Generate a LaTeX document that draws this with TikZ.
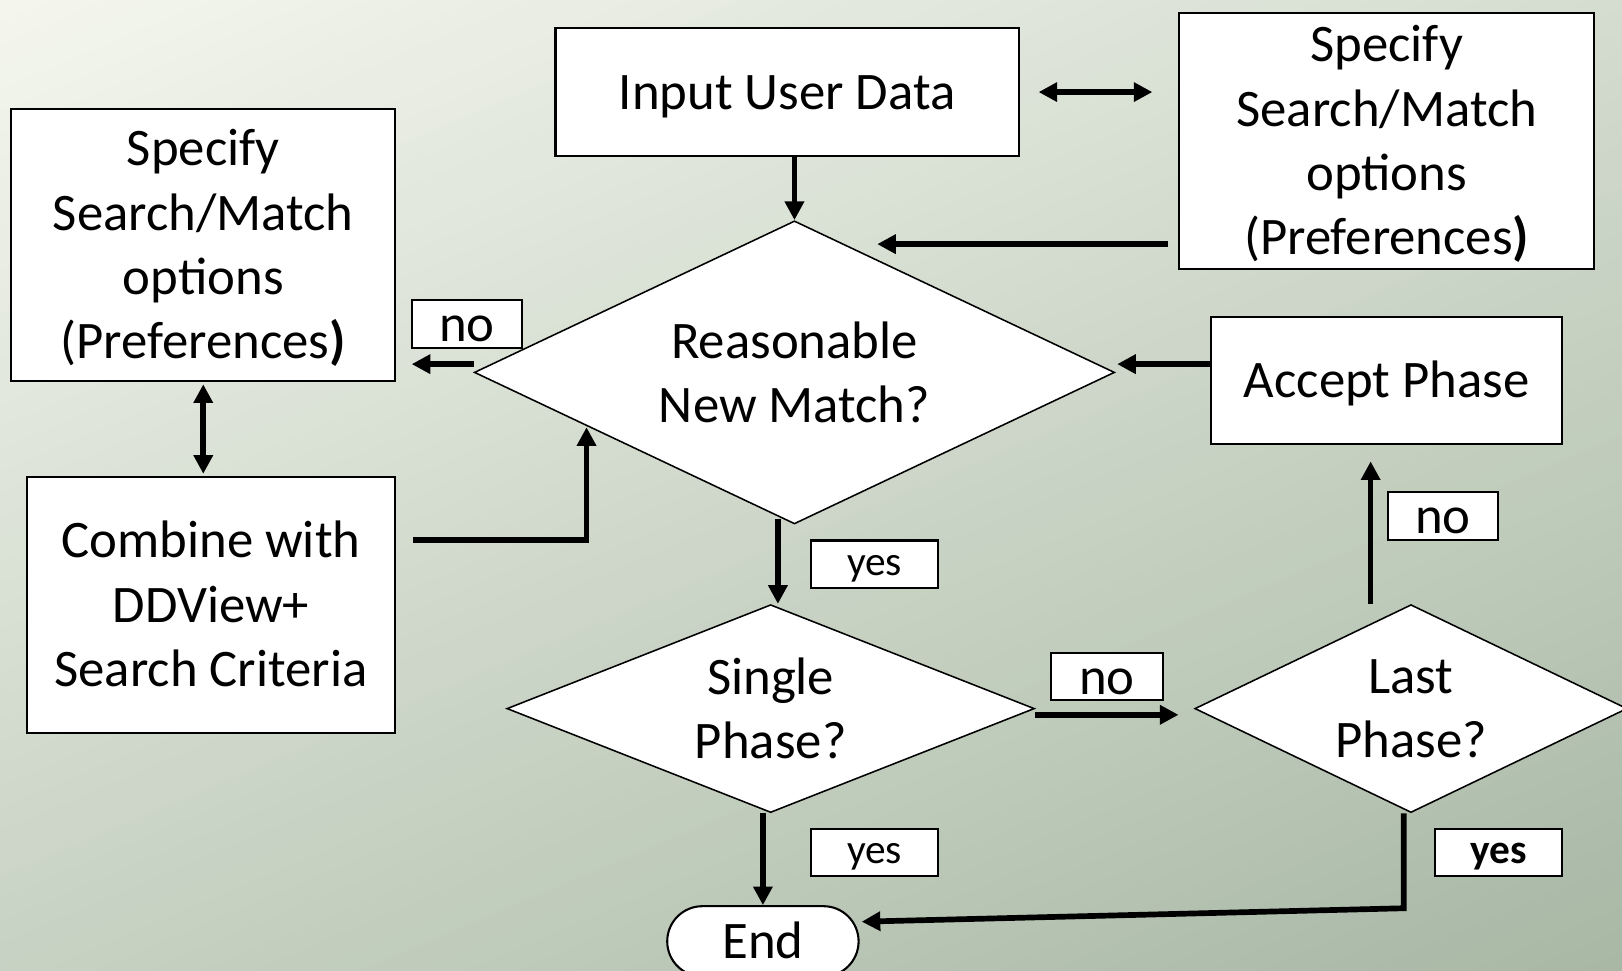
\documentclass[tikz,border=0pt]{standalone}
\usepackage{fontspec}
\setmainfont{Carlito}
\usetikzlibrary{arrows.meta,shapes.geometric,shapes.misc}
\definecolor{bglight}{HTML}{F4F6EE}
\definecolor{bgdark}{HTML}{A8B8A5}
\newcommand\mainfnt{\fontsize{25.5pt}{31pt}\selectfont}
\newcommand\smallfnt{\fontsize{20pt}{24pt}\selectfont}
\tikzset{
  box/.style={draw, line width=1pt, fill=white, align=center, inner sep=0pt, font=\mainfnt, text depth=0pt},
  dia/.style={diamond, draw, line width=0.75pt, fill=white, align=center, inner sep=0pt, aspect=2, font=\mainfnt},
  lblno/.style={draw, line width=1pt, fill=white, inner sep=0pt, minimum height=23pt, font=\mainfnt, text height=17pt, text depth=0pt},
  lblyes/.style={draw, line width=1pt, fill=white, inner sep=0pt, minimum height=23pt, font=\smallfnt, text height=10.5pt, text depth=0pt},
  arr/.style={line width=2.75pt, -{Triangle[length=9pt,width=9pt]}},
  darr/.style={line width=2.75pt, {Triangle[length=9pt,width=9pt]}-{Triangle[length=9pt,width=9pt]}},
}
\begin{document}
\begin{tikzpicture}[x=0.5pt, y=-0.5pt]
\useasboundingbox (0,0) rectangle (1568,938);
% background gradient
\begin{scope}
  \clip (0,0) rectangle (1568,938);
  \begin{scope}[rotate=-67]
    \foreach \i in {-1,...,74}{
      \pgfmathsetmacro\p{max(0,min(100,\i*100/73))}
      \fill[bgdark!\p!bglight] (\i*20,-2500) rectangle (\i*20+21,2500);
    }
  \end{scope}
\end{scope}

% nodes
\node[box, text height=16.4pt, minimum width=224pt, minimum height=62pt] (input) at (761,89) {Input User Data};
\node[box, text height=109.4pt, minimum width=200.5pt, minimum height=123.5pt] (spec2) at (1340.5,136.5)
  {Specify\\Search/Match\\options\\(Preferences\textbf{)}};
\node[box, text height=109.4pt, minimum width=185.5pt, minimum height=131.5pt] (spec1) at (196.5,237)
  {Specify\\Search/Match\\options\\(Preferences\textbf{)}};
\node[box, text height=78.4pt, minimum width=178pt, minimum height=124pt] (combine) at (204,585)
  {Combine with\\DDView+\\Search Criteria};
\node[box, text height=16.4pt, minimum width=169.5pt, minimum height=61.5pt] (accept) at (1340.5,367.5) {Accept Phase};
\node[dia, minimum width=309.5pt, minimum height=146.5pt] (reason) at (768,360) {Reasonable\\New Match?};
\node[dia, minimum width=255pt, minimum height=100.5pt] (single) at (745,685) {Single\\Phase?};
\node[dia, minimum width=209pt, minimum height=100.5pt] (last) at (1364,685) {Last\\Phase?};
\node[rounded rectangle, draw, line width=1pt, fill=white, inner sep=0pt, font=\mainfnt,
      text height=16.4pt, text depth=0pt,
      minimum width=92.5pt, minimum height=34pt] (end) at (737.5,910) {End};

% labels
\node[lblno, minimum width=53.5pt] (lno1) at (451.5,313) {no};
\node[lblyes, minimum width=61.5pt] (lyes1) at (845.5,545.5) {yes};
\node[lblno, minimum width=54pt] (lno2) at (1070,654) {no};
\node[lblno, minimum width=53pt] (lno3) at (1395,499) {no};
\node[lblyes, minimum width=61.5pt] (lyes2) at (845.5,824) {yes};
\node[lblyes, minimum width=61.5pt] (lyes3) at (1448.5,824) {\textbf{yes}};

% helper coordinates
\coordinate (c1) at (848,236);
\coordinate (c2) at (1080,352);
\coordinate (c3) at (398,352);
\coordinate (c4) at (567,413);
\coordinate (c8) at (1325,446);
\coordinate (c9) at (1357,878);

% connectors
\draw[arr] (reason.north |- input.south) -- (reason.north);
\draw[darr] ([xshift=9pt]input.east) -- ([xshift=-12.5pt]spec2.west |- input.east);
\draw[arr] ([xshift=-5pt]spec2.west |- c1) -- (c1);
\draw[arr] (accept.west |- c2) -- (c2);
\draw[arr] (reason.west |- c3) -- (c3);
\draw[darr] ([yshift=-1pt]spec1.south) -- ([yshift=1pt]spec1.south |- combine.north);
\draw[arr] ([xshift=8pt]combine.east |- 0,522) -| (c4);
\draw[arr] ([xshift=-8pt,yshift=3pt]reason.south) -- ([xshift=-8pt]reason.south |- single.north);
\draw[arr] ([yshift=-3pt]single.east) -- ([xshift=-7.5pt,yshift=-3pt]last.west);
\draw[arr] (c8 |- last.north) -- (c8);
\draw[arr] (end.north |- single.south) -- (end.north);
\draw[arr] (c9 |- last.south) -- (c9) -- ([xshift=1pt,yshift=9.5pt]end.east);
\end{tikzpicture}
\end{document}
